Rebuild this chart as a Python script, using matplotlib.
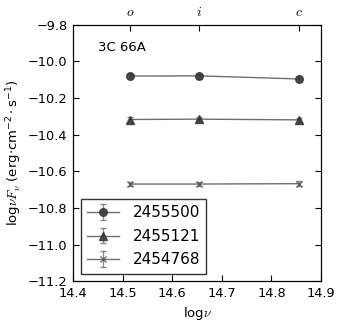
import matplotlib
matplotlib.use("Agg")
import matplotlib.pyplot as plt

# log frequency of the o, i, c bands
lognu = [14.515, 14.654, 14.856]
band_labels = ["o", "i", "c"]

jd_labels = ["2455500", "2455121", "2454768"]
flux_2455500 = [-10.081, -10.080, -10.097]
flux_2455121 = [-10.318, -10.316, -10.320]
flux_2454768 = [-10.670, -10.670, -10.668]
err_2455500 = [0.012, 0.012, 0.012]
err_2455121 = [0.012, 0.012, 0.012]
err_2454768 = [0.012, 0.012, 0.012]

plt.rcParams["font.size"] = 9.3
plt.rcParams["mathtext.fontset"] = "cm"
plt.rcParams["mathtext.default"] = "regular"
fig = plt.figure(figsize=(3.43, 3.27), dpi=100)
ax = fig.add_axes([0.213, 0.14, 0.723, 0.785])

series = [(flux_2455500, err_2455500, "o", 5.5, "#333333"),
          (flux_2455121, err_2455121, "^", 5.5, "#333333"),
          (flux_2454768, err_2454768, "x", 5, "#555555")]
for (y, e, m, ms, c), lab in zip(series, jd_labels):
    ax.errorbar(lognu, y, yerr=e, marker=m, ms=ms, color="#555555",
                mfc=c, mec=c, ecolor="#777777", capsize=2.5, lw=1,
                label=lab, alpha=0.85)

ax.set_xlim(14.4, 14.9)
ax.set_ylim(-11.2, -9.8)
ax.set_xlabel(r"log$\it{\nu}$", fontsize=9.5, labelpad=4)
ax.set_ylabel(r"log$\it{\nu F_\nu}$ (erg$\cdot$cm$^{-2}\cdot$s$^{-1}$)",
              fontsize=9.5, labelpad=3)
ax.tick_params(direction="in", top=False, right=True, length=4, pad=4)
ax.text(0.1, 0.91, "3C 66A", transform=ax.transAxes, fontsize=9.5, va="center")

top = ax.twiny()
top.set_xlim(ax.get_xlim())
top.set_xticks(lognu)
top.set_xticklabels([r"$\it{%s}$" % b for b in band_labels], fontsize=10)
top.tick_params(direction="in", length=4, pad=4)

leg = ax.legend(loc="lower left", fontsize=11, frameon=True, fancybox=False,
                borderaxespad=0.5, handlelength=2.1, handletextpad=0.9,
                labelspacing=0.56, borderpad=0.4)
leg.get_frame().set_edgecolor("black")
leg.get_frame().set_linewidth(1.0)

fig.savefig("out.png", dpi=100)
